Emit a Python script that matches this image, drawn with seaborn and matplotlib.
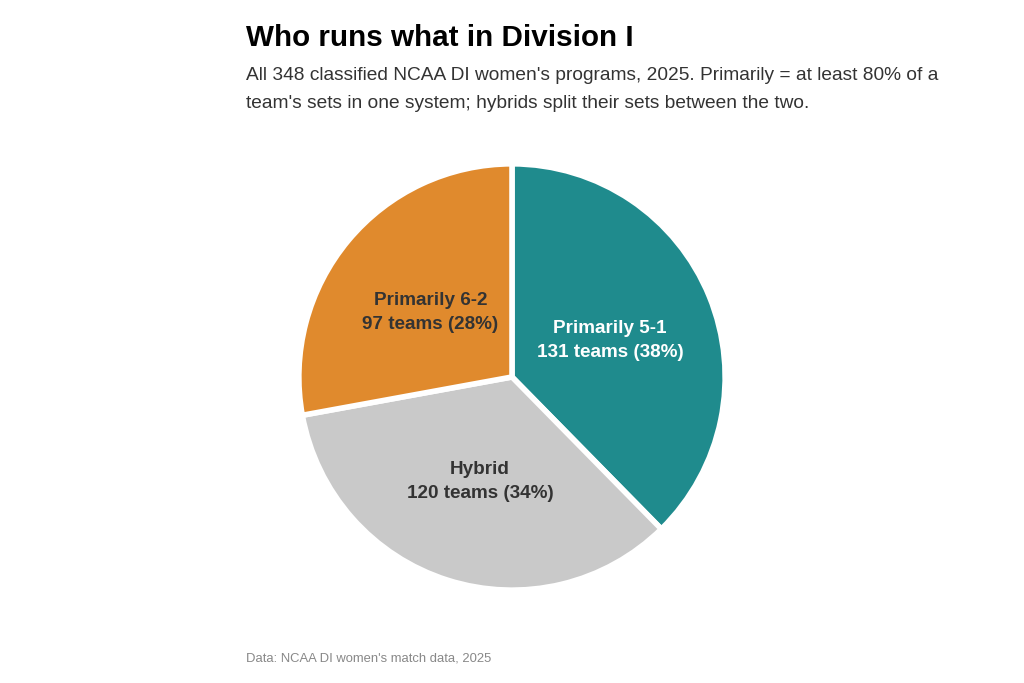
import numpy as np
import matplotlib
matplotlib.use("Agg")
import matplotlib.pyplot as plt
import seaborn as sns

# data
systems = ["Primarily 5-1", "Hybrid", "Primarily 6-2"]
teams = [131, 120, 97]
colors = ["#1f8b8d", "#c9c9c9", "#e08a2d"]
text_colors = ["white", "#333333", "#333333"]

sns.set_theme(style="white")
plt.rcParams["font.family"] = ["Liberation Sans", "DejaVu Sans"]

fig = plt.figure(figsize=(10.24, 6.83), dpi=100)
ax = fig.add_axes([0.2949, 0.1406, 0.4102, 0.6149])

total = sum(teams)
wedges, _ = ax.pie(teams, colors=colors, startangle=90, counterclock=False,
                   radius=1.015, wedgeprops=dict(edgecolor="white", linewidth=4))

# labels inside each wedge, at mid angle
for w, name, n, tc in zip(wedges, systems, teams, text_colors):
    ang = np.deg2rad((w.theta1 + w.theta2) / 2)
    r = 0.505
    pct = round(n / total * 100)
    ax.text(r * np.cos(ang), r * np.sin(ang) - 0.018, f"{name}\n{n} teams ({pct}%)",
            ha="center", va="center", fontsize=13.6, fontweight="bold",
            color=tc, linespacing=1.55)

ax.set_xlim(-1.0, 1.0)
ax.set_ylim(-1.0, 1.0)
ax.set_aspect("equal")
ax.axis("off")

fig.text(0.240, 0.944, "Who runs what in Division I", fontsize=21.3,
         fontweight="bold", color="black", va="center")
fig.text(0.240, 0.869,
         "All 348 classified NCAA DI women's programs, 2025. Primarily = at least 80% of a\n"
         "team's sets in one system; hybrids split their sets between the two.",
         fontsize=13.8, color="#333333", va="center", linespacing=1.9)
fig.text(0.240, 0.036, "Data: NCAA DI women's match data, 2025", fontsize=9.4,
         color="#888888", va="center")

fig.savefig("out.png", dpi=100, facecolor="white")
